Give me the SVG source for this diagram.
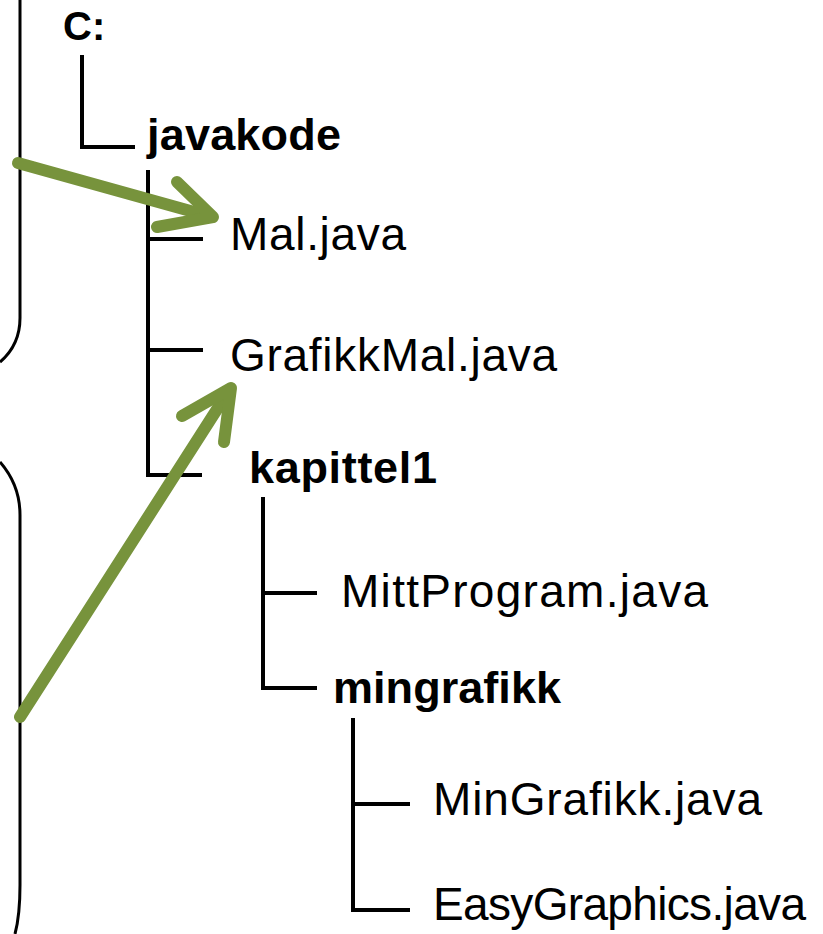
<svg xmlns="http://www.w3.org/2000/svg" width="823" height="934" viewBox="0 0 823 934">
<style>
.b{font-family:"Liberation Sans",Arial,sans-serif;font-weight:bold;fill:#000}
.r{font-family:"Liberation Sans",Arial,sans-serif;fill:#000;font-size:46px}
.t{fill:none;stroke:#000;stroke-width:4;stroke-linecap:butt}
.brace{fill:none;stroke:#000;stroke-width:3}
.g{fill:none;stroke:#77933C;stroke-width:12;stroke-linecap:round;stroke-linejoin:round}
</style>
<rect width="823" height="934" fill="#fff"/>
<g id="brace"><path class="brace" d="M20,0 V318 Q20,345 0,362"/><path class="brace" d="M0,462 Q20,485 20,515 V885 Q20,915 15,934"/></g>
<g id="connectors">
<path class="t" d="M82,55 V147 H135"/>
<path class="t" d="M148,170 V475 H202 M148,239 H203 M148,350 H203"/>
<path class="t" d="M263,497 V688 H317 M263,593 H317"/>
<path class="t" d="M353,718 V910 H410 M353,804 H410"/>
</g>
<g id="n-c"><text class="b" x="63" y="40" font-size="40">C:</text></g>
<g id="n-javakode"><text class="b" x="147" y="150" font-size="45" textLength="194">javakode</text></g>
<g id="n-mal"><text class="r" x="230" y="250" textLength="176">Mal.java</text></g>
<g id="n-grafikkmal"><text class="r" x="230" y="371" textLength="327">GrafikkMal.java</text></g>
<g id="n-kapittel1"><text class="b" x="249" y="483" font-size="45" textLength="188">kapittel1</text></g>
<g id="n-mittprogram"><text class="r" x="341" y="607" textLength="367">MittProgram.java</text></g>
<g id="n-mingrafikk"><text class="b" x="333" y="703" font-size="45" textLength="228">mingrafikk</text></g>
<g id="n-mingrafikkjava"><text class="r" x="433" y="815" textLength="329">MinGrafikk.java</text></g>
<g id="n-easy"><text class="r" x="433" y="920" textLength="373">EasyGraphics.java</text></g>
<g id="arrows">
<path class="g" d="M18,163 L212,217" stroke-linecap="butt"/>
<path class="g" d="M177,182 L213,217 L157,227"/>
<path class="g" d="M20,717 L230,389" stroke-linecap="butt"/>
<path class="g" d="M182,416 L231,388 L224,442"/>
</g>
</svg>
